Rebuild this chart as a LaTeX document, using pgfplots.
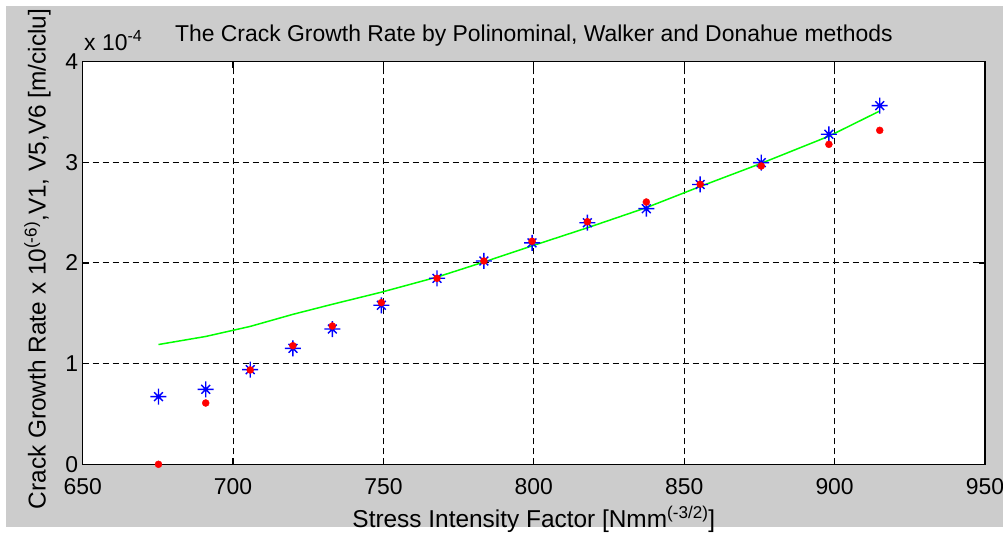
\documentclass[border=0pt]{standalone}
\usepackage{fontspec}
\setmainfont{Liberation Sans}
\usepackage{pgfplots}
\pgfplotsset{compat=1.18}
\definecolor{figgray}{RGB}{204,204,204}
\definecolor{mblue}{RGB}{0,0,255}
\definecolor{mred}{RGB}{255,0,0}
\definecolor{mgreen}{RGB}{0,255,0}
\pgfdeclareplotmark{mstar}{%
  \pgfpathmoveto{\pgfqpoint{-\pgfplotmarksize}{0pt}}%
  \pgfpathlineto{\pgfqpoint{\pgfplotmarksize}{0pt}}%
  \pgfpathmoveto{\pgfqpoint{0pt}{-\pgfplotmarksize}}%
  \pgfpathlineto{\pgfqpoint{0pt}{\pgfplotmarksize}}%
  \pgfpathmoveto{\pgfqpoint{-0.55\pgfplotmarksize}{-0.55\pgfplotmarksize}}%
  \pgfpathlineto{\pgfqpoint{0.55\pgfplotmarksize}{0.55\pgfplotmarksize}}%
  \pgfpathmoveto{\pgfqpoint{-0.55\pgfplotmarksize}{0.55\pgfplotmarksize}}%
  \pgfpathlineto{\pgfqpoint{0.55\pgfplotmarksize}{-0.55\pgfplotmarksize}}%
  \pgfusepathqstroke}
\newcommand{\ff}{\fontsize{23}{27}\selectfont}
\newcommand{\fl}{\fontsize{24.5}{29}\selectfont}
\begin{document}
\begin{tikzpicture}
\useasboundingbox (0,0) rectangle (1003bp,539bp);
\fill[white] (0,0) rectangle (1003bp,539bp);
\fill[figgray] (6bp,12bp) rectangle (1003bp,533bp);
\begin{axis}[
  at={(82.7bp,74.7bp)}, anchor=south west,
  scale only axis, width=902.3bp, height=402.6bp,
  xmin=650, xmax=950, ymin=0, ymax=4,
  xtick={650,700,...,950}, ytick={0,1,2,3,4},
  clip=false,
  axis background/.style={fill=white},
  grid=major,
  major grid style={black, dash pattern=on 6bp off 4bp, line width=1bp},
  axis line style={black, line width=1.2bp},
  tick style={black, line width=1.2bp},
  major tick length=6bp,
  tick label style={font=\ff, inner sep=1bp},
  /pgf/number format/assume math mode=true,
  /pgf/number format/1000 sep={},
  xticklabel style={yshift=-13bp},
  yticklabel style={xshift=-3.5bp},
  xlabel={Stress Intensity Factor [Nmm\textsuperscript{(-3/2)}]},
  xlabel style={font=\fl, at={(axis description cs:0.5,-0.158)}, anchor=base},
  ylabel={Crack Growth Rate x 10\textsuperscript{(-6)},V1, V5,V6 [m/ciclu]},
  ylabel style={font=\fl, at={(axis description cs:-0.041,0.51)}, anchor=base},
  title={The Crack Growth Rate by Polinominal, Walker and Donahue methods},
  title style={font=\ff, at={(axis description cs:0.5,1)}, anchor=base, yshift=14bp},
]
\addplot[only marks, mark=mstar, mark size=8bp, mblue, line width=1.4bp] coordinates {
(675.2,0.672) (690.9,0.745) (705.7,0.94) (719.9,1.152) (733.0,1.344) (749.3,1.58)
(767.8,1.848) (783.4,2.02) (799.4,2.20) (817.8,2.40) (837.4,2.54) (855.3,2.78)
(875.6,2.997) (898.1,3.279) (915.0,3.563)};
\addplot[mgreen, line width=1.5bp, no marks] coordinates {
(675.2,1.19) (690.9,1.27) (705.7,1.37) (719.9,1.49) (733.0,1.59) (749.3,1.71)
(767.8,1.86) (783.4,2.01) (799.4,2.17) (817.8,2.35) (837.4,2.55) (855.3,2.76)
(875.6,2.99) (898.1,3.26) (915.0,3.51)};
\addplot[only marks, mark=*, mark size=3.5bp, mred, mark options={draw=mred, fill=mred}] coordinates {
(675.2,0.0) (690.9,0.609) (705.7,0.937) (719.9,1.178) (733.0,1.374) (749.3,1.606)
(767.8,1.848) (783.4,2.02) (799.4,2.216) (817.8,2.41) (837.4,2.606) (855.3,2.782)
(875.6,2.964) (898.1,3.179) (915.0,3.318)};
\node[anchor=base west, font=\ff] at (axis description cs:0,1) [yshift=11bp, xshift=-2bp] {x 10\textsuperscript{-4}};
\end{axis}
\end{tikzpicture}
\end{document}
